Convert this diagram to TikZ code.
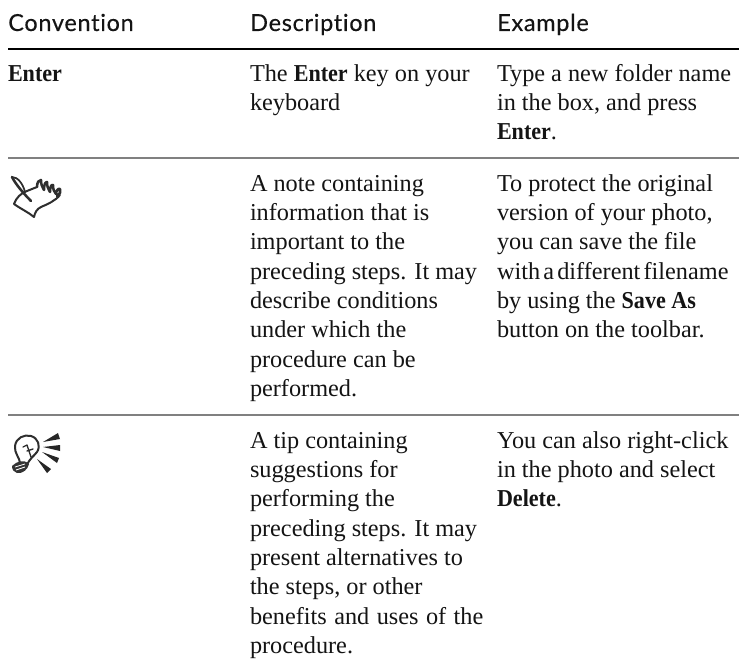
\documentclass[tikz,border=0pt]{standalone}
\usepackage{fontspec}
\setmainfont[BoldFeatures={FakeStretch=0.91}]{Liberation Serif}
\newfontfamily\headfont[FakeBold=0.25,Ligatures=NoCommon]{Lato}
\newcommand{\firststrut}{\rule{0pt}{13pt}}
\tikzset{
  x=0.75pt,y=-0.75pt,
  cell/.style={anchor=north west,inner sep=0pt,outer sep=0pt,align=left,font=\fontsize{18.2pt}{22pt}\selectfont,text=black!92},
  head/.style={anchor=base west,inner sep=0pt,font=\headfont\fontsize{17.6pt}{21pt}\selectfont\addfontfeature{LetterSpace=3},text=black!92},
  toprule/.style={line width=1.5pt,black},
  midrule/.style={line width=1.5pt,black!50},
  ink/.style={line width=1.5pt,black!82,line cap=round,line join=round},
  ray/.style={fill=black!85},
}
\begin{document}
\begin{tikzpicture}
\useasboundingbox (0,0) rectangle (739,667);
\fill[white] (0,0) rectangle (739,667);
\node[head] (h1) at (8,31) {Convention};
\node[head] (h2) at (250,31) {Description};
\node[head] (h3) at (497,31) {Example};
\draw[toprule] (8,49) -- (739,49);
\node[cell] (a1) at (8,63.7) {\firststrut\textbf{Enter}};
\node[cell] (b1) at (250,63.7) {\firststrut The \textbf{Enter} key on your\\keyboard};
\node[cell] (c1) at (497,63.7) {\firststrut Type a new folder name\\in the box, and press\\\textbf{Enter}.};
\draw[midrule] (8,158) -- (739,158);
\node[cell] (b2) at (250,173.7) {\firststrut A note containing\\information that is\\important to the\\preceding steps. It may\\describe conditions\\under which the\\procedure can be\\performed.};
\node[cell] (c2) at (497,173.7) {\firststrut To protect the original\\version of your photo,\\you can save the file\\{\spaceskip=2.4pt with a different filename}\\by using the \textbf{Save As}\\button on the toolbar.};
\draw[midrule] (8,415) -- (739,415);
\node[cell] (b3) at (250,430.7) {\firststrut A tip containing\\suggestions for\\performing the\\preceding steps. It may\\present alternatives to\\the steps, or other\\{\spaceskip=5.6pt benefits and uses of the}\\procedure.};
\node[cell] (c3) at (497,430.7) {\firststrut You can also right-click\\in the photo and select\\\textbf{Delete}.};
% hand icon
\draw[ink] (27,191) .. controls (21,193) and (16,198) .. (14,204) .. controls (21,209) and (28,212) .. (34,217) .. controls (35,212) and (37,209) .. (41,207) .. controls (48,204) and (55,201) .. (60,195);
\draw[ink,line width=1.9pt] (12,177) .. controls (15,183) and (22,192) .. (31,201);
\draw[ink,line width=1.3pt] (12,177) .. controls (18,177) and (23,184) .. (25,192);
\draw[ink] (27,191) -- (37,187);
\draw[ink,line width=1.9pt] (37,187) .. controls (37,182) and (39,180) .. (41,180) .. controls (41,184) and (42,187) .. (44,190) .. controls (44,185) and (45,182) .. (47,182) .. controls (47,186) and (48,189) .. (50,192) .. controls (50,188) and (51,184) .. (53,185) .. controls (53,189) and (54,192) .. (56,194) .. controls (56,191) and (58,188) .. (60,189) -- (60,193) -- (57,196);
% bulb icon
\draw[ink] (20,463) .. controls (20,458) and (14,453) .. (15,446) .. controls (16,438) and (24,434) .. (31,436) .. controls (38,438) and (41,446) .. (37,452) .. controls (34,456) and (30,458) .. (27,465);
\draw[ink,line width=1pt] (23,447) -- (27,445) -- (31,457) (27,451) -- (33,449);
\fill[black!80] (12,466) .. controls (17,461) and (24,459) .. (29,464) .. controls (28,469) and (23,474) .. (17,473) .. controls (14,472) and (12,470) .. (12,466) -- cycle;
\draw[white,line width=0.6pt] (15,467) -- (25,464) (16,470) -- (25,467);
\fill[ray] (43,442) -- (58,433) -- (60,439) -- cycle;
\fill[ray] (43,447) -- (60,445) -- (60,451) -- cycle;
\fill[ray] (42,452) -- (59,458) -- (57,463) -- cycle;
\fill[ray] (37,459) -- (51,469) -- (47,473) -- cycle;
\end{tikzpicture}
\end{document}
